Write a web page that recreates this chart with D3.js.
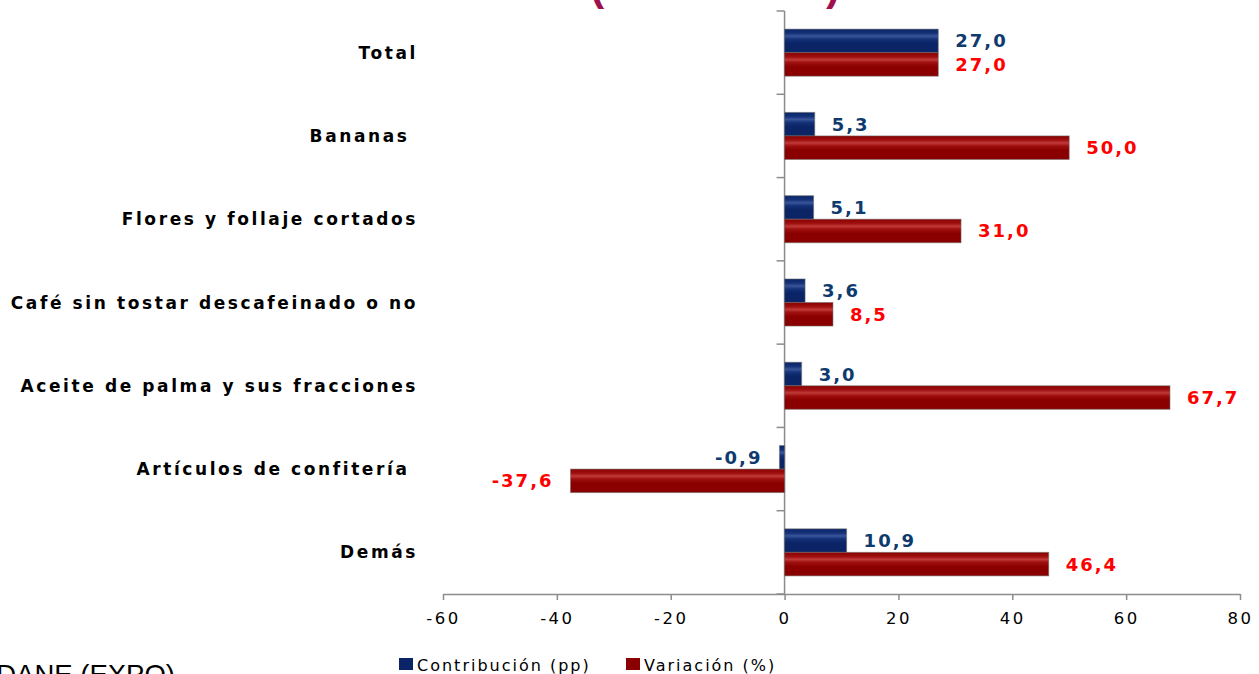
<!DOCTYPE html>
<html>
<head>
<meta charset="utf-8">
<script src="https://cdn.jsdelivr.net/npm/d3@7"></script>
<style>
  html, body { margin: 0; padding: 0; background: #fff; overflow: hidden; }
  svg { display: block; }
  .cat { font-family: "DejaVu Sans", sans-serif; font-weight: bold; font-size: 17px; letter-spacing: 2.6px; white-space: pre; }
  .val { font-family: "DejaVu Sans", sans-serif; font-weight: bold; font-size: 18px; letter-spacing: 2px; }
  .tick text { font-family: "DejaVu Sans", sans-serif; font-size: 16.5px; letter-spacing: 2.5px; fill: #000; }
  .leg { font-family: "DejaVu Sans", sans-serif; font-size: 16px; letter-spacing: 2px; }
</style>
</head>
<body>
<script>
// data
var categories = ["Total", "Bananas ", "Flores y follaje cortados", "Café sin tostar descafeinado o no",
                  "Aceite de palma y sus fracciones", "Artículos de confitería ", "Demás"];
var contribucion = [27.0, 5.3, 5.1, 3.6, 3.0, -0.9, 10.9];
var variacion = [27.0, 50.0, 31.0, 8.5, 67.7, -37.6, 46.4];
var seriesNames = ["Contribución (pp)", "Variación (%)"];
var xTicks = [-60, -40, -20, 0, 20, 40, 60, 80];

var W = 1259, H = 674;
var plotLeft = 443, plotRight = 1240, plotTop = 11, plotBottom = 594;

var svg = d3.select("body").append("svg")
      .attr("width", W)
      .attr("height", H);

var defs = svg.append("defs");
function gloss(id, dark, mid, light) {
      var g = defs.append("linearGradient").attr("id", id)
            .attr("x1", 0).attr("y1", 0).attr("x2", 0).attr("y2", 1);
      g.append("stop").attr("offset", "0%").attr("stop-color", dark);
      g.append("stop").attr("offset", "18%").attr("stop-color", mid);
      g.append("stop").attr("offset", "30%").attr("stop-color", light);
      g.append("stop").attr("offset", "42%").attr("stop-color", mid);
      g.append("stop").attr("offset", "60%").attr("stop-color", dark);
      g.append("stop").attr("offset", "100%").attr("stop-color", dark);
}
gloss("gBlue", "#0a2466", "#15337a", "#3a5598");
gloss("gRed", "#8a0000", "#a01010", "#c03a3a");

// title, cut off by the top edge
svg.append("text")
      .attr("x", 840).attr("y", -0.5)
      .attr("text-anchor", "end")
      .style("font-family", "Liberation Sans, Arial, sans-serif")
      .style("font-weight", "bold")
      .style("font-size", "42px")
      .style("fill", "#a0104f")
      .text("Contribución a la variación (2010 - 2011)");

var x = d3.scaleLinear()
      .domain([-60, 80])
      .range([plotLeft, plotRight]);

var y = d3.scaleBand()
      .domain(categories)
      .range([plotTop, plotBottom])
      .paddingInner(0.435)
      .paddingOuter(0.2175);

var inner = d3.scaleBand()
      .domain(seriesNames)
      .range([0, y.bandwidth()]);

// x axis
var xAxis = svg.append("g")
      .attr("transform", "translate(0," + plotBottom + ")")
      .call(d3.axisBottom(x).tickValues(xTicks).tickSize(6).tickSizeOuter(0).tickPadding(12)
            .tickFormat(d => String(d)));
xAxis.selectAll("path, line").attr("stroke", "#8c8c8c").attr("stroke-width", 1.5);

// y axis at zero with band boundary ticks
var yAxis = svg.append("g");
yAxis.append("line")
      .attr("x1", x(0)).attr("x2", x(0))
      .attr("y1", plotTop).attr("y2", plotBottom)
      .attr("stroke", "#8c8c8c").attr("stroke-width", 1.5);
var bounds = d3.range(categories.length + 1).map(i => plotTop + i * (plotBottom - plotTop) / categories.length);
yAxis.selectAll("line.tk")
      .data(bounds)
      .enter().append("line")
      .attr("class", "tk")
      .attr("x1", x(0) - 8).attr("x2", x(0))
      .attr("y1", d => d).attr("y2", d => d)
      .attr("stroke", "#8c8c8c").attr("stroke-width", 1.5);

// category labels
svg.selectAll("text.cat")
      .data(categories)
      .enter().append("text")
      .attr("class", "cat")
      .attr("x", 418)
      .attr("y", d => y(d) + y.bandwidth() / 2 + 6)
      .attr("text-anchor", "end")
      .text(d => d);

// bars
var rows = categories.map((c, i) => ({cat: c, vals: [contribucion[i], variacion[i]]}));
var fills = ["url(#gBlue)", "url(#gRed)"];
var labelColors = ["#0e3a6e", "#ff0000"];

var groups = svg.selectAll("g.row")
      .data(rows)
      .enter().append("g")
      .attr("class", "row")
      .attr("transform", d => "translate(0," + y(d.cat) + ")");

groups.selectAll("rect")
      .data(d => d.vals.map((v, j) => ({v: v, j: j})))
      .enter().append("rect")
      .attr("x", d => x(Math.min(0, d.v)))
      .attr("y", d => inner(seriesNames[d.j]))
      .attr("width", d => Math.abs(x(d.v) - x(0)))
      .attr("height", inner.bandwidth())
      .attr("fill", d => fills[d.j])
      .attr("stroke", "rgba(110,110,110,0.55)")
      .attr("stroke-width", 1);

groups.selectAll("text.val")
      .data(d => d.vals.map((v, j) => ({v: v, j: j})))
      .enter().append("text")
      .attr("class", "val")
      .attr("x", d => d.v >= 0 ? x(d.v) + 17 : x(d.v) - 17)
      .attr("y", d => inner(seriesNames[d.j]) + inner.bandwidth() / 2 + 6.5)
      .attr("text-anchor", d => d.v >= 0 ? "start" : "end")
      .attr("fill", d => labelColors[d.j])
      .text(d => d.v.toFixed(1).replace(".", ","));

// legend
var legX = [399, 626];
var leg = svg.selectAll("g.leg")
      .data(seriesNames)
      .enter().append("g")
      .attr("class", "leg")
      .attr("transform", (d, i) => "translate(" + legX[i] + ",658)");
leg.append("rect")
      .attr("width", 14).attr("height", 12)
      .attr("fill", (d, i) => i == 0 ? "#0a2466" : "#8a0000");
leg.append("text")
      .attr("x", 18).attr("y", 12.5)
      .attr("fill", "#000")
      .text(d => d);

// source note, partly cut by the page edges
svg.append("text")
      .attr("x", 175).attr("y", 684)
      .attr("text-anchor", "end")
      .style("font-family", "Liberation Sans, Arial, sans-serif")
      .style("font-size", "27.5px")
      .style("fill", "#000")
      .text("Fuente: DANE (EXPO)");
</script>
</body>
</html>
